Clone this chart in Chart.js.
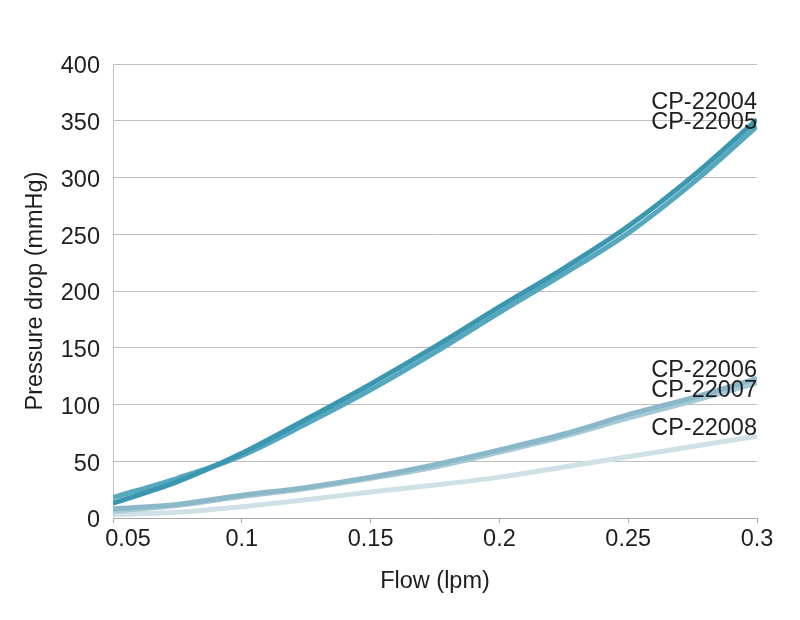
<!DOCTYPE html>
<html>
<head>
<meta charset="utf-8">
<script src="https://cdn.jsdelivr.net/npm/chart.js@4/dist/chart.umd.min.js"></script>
<style>
  html, body { margin: 0; padding: 0; background: #fff; }
  #wrap { width: 800px; height: 620px; }
</style>
</head>
<body>
<div id="wrap"><canvas id="flowChart" width="800" height="620"></canvas></div>
<script>
// DATA
const flow = [0.05, 0.075, 0.1, 0.125, 0.15, 0.175, 0.2, 0.225, 0.25, 0.275, 0.3];
const seriesNames = ['CP-22004', 'CP-22005', 'CP-22006', 'CP-22007', 'CP-22008'];
const cp22004 = [13, 32, 57, 87, 118, 151, 186, 220, 257, 301, 351];
const cp22005 = [18, 35, 55, 83, 113, 146, 181, 215, 251, 295, 345];
const cp22006 = [8, 12, 20, 27, 36, 47, 60, 74, 91, 106, 123];
const cp22007 = [6, 11, 19, 26, 35, 45, 58, 72, 88, 103, 119];
const cp22008 = [3, 5, 10, 16, 23, 29, 36, 45, 54, 63, 72];
const xTicks = [0.05, 0.1, 0.15, 0.2, 0.25, 0.3];
const yTicks = [0, 50, 100, 150, 200, 250, 300, 350, 400];

const colors = ['#3b97af', '#55a8be', '#8ab8c9', '#a6c9d6', '#cfe0e6'];
// label offsets from the end of each line (px)
const labelShift = [-17, -4, -8, 8, -8];

const FONT = '"Liberation Sans", Arial, Helvetica, sans-serif';
const INK = '#1e1e1e';
const FS = 23.5;

function pts(vals) {
  return vals.map((v, i) => ({ x: flow[i], y: v }));
}

const allSeries = [cp22004, cp22005, cp22006, cp22007, cp22008];
const datasets = allSeries.map((vals, i) => ({
  label: seriesNames[i],
  data: pts(vals),
  borderColor: colors[i],
  borderWidth: 5,
  pointRadius: 0,
  fill: false,
  cubicInterpolationMode: 'monotone',
  order: i
}));

// END LABELS
const endLabels = {
  id: 'endLabels',
  afterDatasetsDraw(chart) {
    const ctx = chart.ctx;
    ctx.save();
    ctx.font = FS + 'px ' + FONT;
    ctx.fillStyle = INK;
    ctx.textAlign = 'right';
    ctx.textBaseline = 'middle';
    chart.data.datasets.forEach((ds, i) => {
      const meta = chart.getDatasetMeta(i);
      const last = meta.data[meta.data.length - 1];
      ctx.fillText(ds.label, last.x, last.y + labelShift[i]);
    });
    ctx.restore();
  }
};

// first x label sits a bit to the right of its tick, like the original
const nudgeFirstLabel = {
  id: 'nudgeFirstLabel',
  beforeDraw(chart) {
    const items = chart.scales.x.getLabelItems();
    if (items.length && !items[0]._nudged) {
      items[0].options.translation[0] += 15;
      items[0]._nudged = true;
    }
  }
};

const ctx = document.getElementById('flowChart').getContext('2d');
const chart = new Chart(ctx, {
  type: 'line',
  data: { datasets: datasets },
  plugins: [endLabels, nudgeFirstLabel],
  options: {
    responsive: false,
    animation: false,
    layout: { padding: { top: 64, right: 43, left: 0, bottom: 0 } },
    plugins: {
      legend: { display: false },
      tooltip: { enabled: false }
    },
    scales: {
      x: {
        type: 'linear',
        min: 0.05,
        max: 0.3,
        afterBuildTicks(scale) {
          scale.ticks = xTicks.map(v => ({ value: v }));
        },
        afterFit(scale) { scale.height = 102; },
        ticks: {
          color: INK,
          font: { family: FONT, size: FS },
          padding: 2,
          maxRotation: 0,
          callback: v => String(Number(v.toFixed(3)))
        },
        grid: {
          drawOnChartArea: false,
          color: '#a8a8a8',
          tickLength: 5
        },
        border: { color: '#a8a8a8', width: 1 },
        title: {
          display: true,
          text: 'Flow (lpm)',
          color: INK,
          font: { family: FONT, size: FS },
          padding: { top: 0, bottom: 24 }
        }
      },
      y: {
        min: 0,
        max: 400,
        afterBuildTicks(scale) {
          scale.ticks = yTicks.map(v => ({ value: v }));
        },
        afterFit(scale) { scale.width = 113; },
        ticks: {
          color: INK,
          font: { family: FONT, size: FS },
          padding: 13,
          labelOffset: 3
        },
        grid: {
          color: '#bdbdbd',
          lineWidth: 1,
          drawTicks: false
        },
        border: { color: '#c4c4c4', width: 1 },
        title: {
          display: true,
          text: 'Pressure drop (mmHg)',
          color: INK,
          font: { family: FONT, size: FS },
          padding: { top: 21, bottom: 0 }
        }
      }
    }
  }
});
</script>
</body>
</html>
